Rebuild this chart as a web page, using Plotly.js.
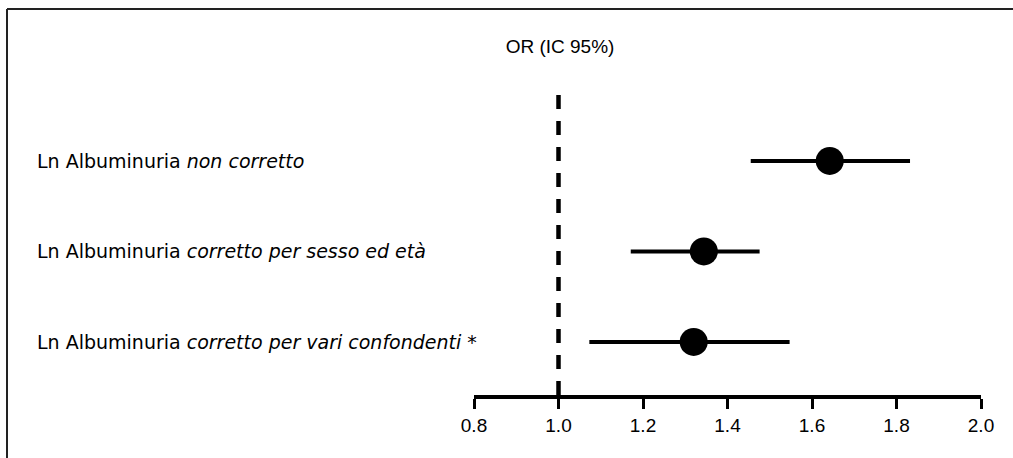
<!DOCTYPE html>
<html><head><meta charset="utf-8">
<script src="https://cdn.plot.ly/plotly-3.0.1.min.js"></script>
<style>html,body{margin:0;padding:0;background:#fff;}#chart{width:1013px;height:458px;}</style>
</head><body><div id="chart"></div>
<script>
const labels = [
  "Ln Albuminuria <i>non corretto</i>",
  "Ln Albuminuria <i>corretto per sesso ed età</i>",
  "Ln Albuminuria <i>corretto per vari confondenti *</i>"
];
const rowPos = [3, 2, 1];
const orValues = [1.642, 1.344, 1.320];
const ciLow = [1.455, 1.171, 1.073];
const ciHigh = [1.832, 1.476, 1.547];
const tickVals = [0.8, 1.0, 1.2, 1.4, 1.6, 1.8, 2.0];
const tickText = ["0.8", "1.0", "1.2", "1.4", "1.6", "1.8", "2.0"];
const refValue = 1.0;
const titleText = "OR (IC 95%)";

const traces = [];
for (let i = 0; i < labels.length; i++) {
  traces.push({
    x: [ciLow[i], ciHigh[i]], y: [rowPos[i], rowPos[i]],
    mode: 'lines', line: {color: '#000', width: 4}, hoverinfo: 'skip', showlegend: false
  });
}
traces.push({
  x: orValues, y: rowPos, mode: 'markers',
  marker: {color: '#000', size: 28}, showlegend: false
});

const L = 474, R = 981, T = 95, B = 395, W = 1013, H = 458;
const px = v => (v - L) / (R - L);
const py = v => (B - v) / (B - T);

const annotations = labels.map((t, i) => ({
  xref: 'paper', yref: 'y', x: px(35), y: rowPos[i], xanchor: 'left', yanchor: 'middle',
  text: t, showarrow: false, font: {family: 'DejaVu Sans, Verdana, sans-serif', size: 19, color: '#000'}
}));

const layout = {
  width: W, height: H,
  margin: {l: L, r: W - R, t: T, b: H - B, pad: 0},
  paper_bgcolor: '#fff', plot_bgcolor: '#fff',
  title: {text: titleText, x: 560 / W, xanchor: 'center', y: 1 - 46 / H, yanchor: 'middle',
          font: {family: 'Liberation Sans, Arial, sans-serif', size: 19, color: '#000'}},
  xaxis: {range: [0.8, 2.0], tickvals: tickVals, ticktext: tickText, showgrid: false, zeroline: false,
          showline: true, linecolor: '#000', linewidth: 4, ticks: 'outside', ticklen: 10, tickwidth: 3,
          tickcolor: '#000', tickfont: {family: 'Liberation Sans, Arial, sans-serif', size: 19, color: '#000'},
          fixedrange: true},
  yaxis: {range: [0.414, 3.729], visible: false, fixedrange: true},
  shapes: [
    {type: 'line', xref: 'x', yref: 'paper', x0: refValue, x1: refValue, y0: 0, y1: 1,
     line: {color: '#000', width: 4.5, dash: '14px,12px'}, layer: 'below'},
    {type: 'line', xref: 'paper', yref: 'paper', x0: px(7), x1: px(1013), y0: py(9), y1: py(9),
     line: {color: '#222', width: 2}},
    {type: 'line', xref: 'paper', yref: 'paper', x0: px(7), x1: px(7), y0: py(9), y1: py(458),
     line: {color: '#222', width: 2}}
  ],
  annotations: annotations
};
Plotly.newPlot('chart', traces, layout, {displayModeBar: false, staticPlot: true});
</script></body></html>
